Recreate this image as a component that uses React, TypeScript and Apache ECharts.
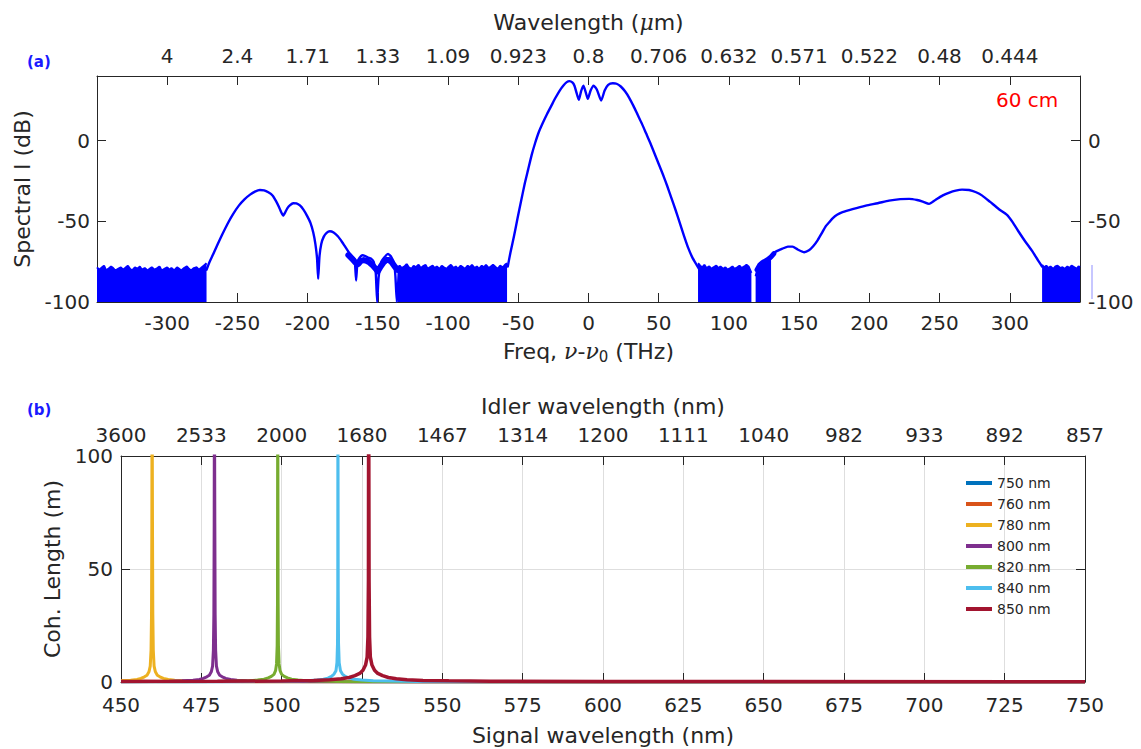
import React, { useEffect, useRef } from 'react';
import * as echarts from 'echarts';

// ---------- Panel (a): spectrum ----------
const wavelengthLabels = ['4', '2.4', '1.71', '1.33', '1.09', '0.923', '0.8', '0.706', '0.632', '0.571', '0.522', '0.48', '0.444'];

const leftSatellite: [number, number][] = [
  [-272, -80], [-270, -75.5], [-267.2, -70.2], [-264, -64], [-261, -58.5], [-257, -51.5], [-253, -45.4],
  [-249, -40.3], [-245, -36.4], [-241, -33.5], [-237.5, -31.6], [-234, -30.6], [-231, -30.8], [-228, -32],
  [-225, -34], [-222.5, -37.5], [-220.5, -41], [-219, -44], [-217.4, -46.5], [-216, -44.5], [-214.5, -42],
  [-212.5, -40], [-210.3, -38.8], [-208, -38.9], [-205.5, -40.2], [-203, -42.8], [-200.5, -46.5],
  [-198, -51], [-196, -57], [-194.5, -64], [-193.3, -73], [-192.5, -85.7], [-191.6, -72], [-190.3, -64],
  [-188.5, -59.5], [-186.5, -57.2], [-184.2, -56.2], [-181.5, -57], [-178.5, -59.3], [-175.5, -62.8],
  [-172.5, -66.8], [-170, -70], [-168, -72], [-166.5, -73.5], [-165.5, -86.7], [-164.5, -75],
  [-163, -72.5], [-161, -71], [-159, -71.5], [-157, -72.5], [-155, -73], [-153, -75], [-151.5, -82],
  [-150.5, -100], [-149.5, -85], [-147.5, -75], [-145, -72], [-142.7, -70.2], [-140.5, -72], [-138.5, -76],
  [-137.5, -84], [-136.5, -100], [-135.5, -88], [-134.5, -79]
];

const leftFuzz: [number, number][] = [
  [-171, -71], [-168, -73.5], [-166, -75.5], [-164, -76.5], [-162, -74.5], [-160, -74], [-158, -74.5],
  [-156, -75.5], [-154, -77], [-152, -79], [-150, -81], [-148, -78], [-146, -75.5], [-144, -74],
  [-142, -74], [-140, -75.5], [-138, -78], [-136, -80]
];

const centralPeak: [number, number][] = [
  [-57.5, -78], [-55.5, -69], [-53, -59], [-50.5, -48], [-48, -37.5], [-45.5, -27], [-43, -18],
  [-40.5, -9], [-38, -1.5], [-35.5, 5], [-32.5, 11], [-29.5, 16.5], [-26.5, 21.5], [-23.5, 26.5],
  [-20.5, 31], [-18, 34], [-15.5, 36.2], [-13.5, 36.8], [-11.5, 36], [-10, 34], [-8.5, 29.5],
  [-6.9, 25.2], [-5.3, 30.5], [-3.6, 34], [-2, 30], [-0.5, 25.8], [1.5, 31], [3.6, 34], [6, 31.5],
  [9, 24.8], [11.5, 31], [14, 34.5], [17.3, 35.5], [20, 35.2], [23, 33.5], [26, 30.5], [29, 26.5],
  [32, 21.5], [35, 16], [38, 10.5], [41, 4.5], [44, -1.5], [47, -8], [50, -14.5], [53, -21], [56, -28],
  [59, -35.5], [62, -43], [65, -51], [68, -59], [71, -66.5], [74, -72.5], [77, -77], [79, -80]
];

const rightSatellite: [number, number][] = [
  [129, -74], [131, -70.5], [134, -68.5], [138, -67], [142, -65.7], [145.3, -65.7], [149, -67.5],
  [153.6, -69.2], [157, -68], [160, -65.5], [163, -62], [166, -57.5], [169, -53], [171.4, -50.6],
  [174, -48], [177, -46], [180.9, -44.4], [188, -42.5], [197.5, -40.3], [206, -38.8], [214, -37.2],
  [222, -36.3], [228.3, -36.1], [234, -36.8], [238, -37.8], [242.5, -39.2], [247, -36.8], [252, -34.1],
  [257, -32.2], [261.5, -31], [266, -30.4], [271, -30.6], [276, -32], [280.4, -34.1], [286, -38],
  [292.3, -42.5], [298, -46], [302, -50.5], [306, -56], [311, -62.5], [316, -68.5], [320, -74], [323, -78]
];

const rightFuzz: [number, number][] = [
  [120, -80], [122, -77], [124, -75.5], [126, -74.5], [128, -73.5], [130, -72], [132, -70]
];

const noiseLeft: [number, number][] = [
  [-350, -78.5], [-348.5, -80], [-347, -79], [-345, -77.5], [-343.5, -80.5], [-342, -79.5], [-340, -78],
  [-338.5, -79], [-337, -80.5], [-335, -79.5], [-333, -78.5], [-331.5, -80], [-330, -79], [-328, -77.5],
  [-326.5, -79.5], [-325, -80.5], [-323, -78.5], [-321, -79.5], [-319.5, -78], [-318, -80], [-316, -79],
  [-314, -80.5], [-312.5, -79.5], [-311, -78.5], [-309, -80], [-307, -79], [-305.5, -78], [-304, -80.5],
  [-302, -79.5], [-300, -78.5], [-298.5, -80], [-297, -79], [-295, -80.5], [-293, -78.5], [-291.5, -79.5],
  [-290, -80.5], [-288, -79], [-286, -78], [-284.5, -79.5], [-283, -80.5], [-281, -79], [-279, -78.5],
  [-277.5, -80], [-276, -79], [-274, -77.5], [-272, -76]
];

const noiseMiddle: [number, number][] = [
  [-136, -79], [-134.5, -77.5], [-133, -79], [-131, -78], [-129.5, -76.5], [-128, -78.5], [-126, -79.5],
  [-124.5, -77.5], [-123, -78.5], [-121, -77], [-119.5, -79], [-118, -78], [-116, -77], [-114.5, -79.5],
  [-113, -78.5], [-111, -77.5], [-109.5, -79], [-108, -78], [-106, -79.5], [-104.5, -77.5], [-103, -78.5],
  [-101, -79.5], [-99.5, -78], [-98, -77], [-96, -79], [-94.5, -78], [-93, -79.5], [-91, -77.5],
  [-89.5, -78.5], [-88, -79.5], [-86, -77.5], [-84.5, -78.5], [-83, -77], [-81, -79], [-79.5, -78],
  [-78, -79.5], [-76, -77.5], [-74.5, -78.5], [-73, -77], [-71, -79], [-69.5, -78], [-68, -77],
  [-66, -78.5], [-64.5, -79.5], [-63, -77.5], [-61, -78.5], [-59.5, -77], [-58, -76]
];

const noiseRightA: [number, number][] = [
  [78, -76], [79.5, -77.5], [81, -78.5], [82.5, -77], [84, -79], [86, -78], [87.5, -79.5], [89, -78.5],
  [91, -77.5], [92.5, -79], [94, -78], [96, -79.5], [97.5, -78.5], [99, -80], [101, -79], [102.5, -78],
  [104, -79.5], [106, -78.5], [107.5, -77.5], [109, -79], [111, -78], [112.5, -77], [114, -78], [116, -82]
];

const noiseRightB: [number, number][] = [
  [119, -84], [120.5, -79], [122, -77], [123.5, -76], [125, -75.5], [127, -74.5], [129, -73.5], [130, -73]
];

const noiseFarRight: [number, number][] = [
  [323, -77], [324.5, -78.5], [326, -77.5], [327.5, -79], [329, -78], [331, -79.5], [332.5, -78],
  [334, -77.5], [336, -79], [337.5, -78.5], [339, -79.5], [341, -78], [342.5, -79], [344, -77.5],
  [346, -78.5], [347.5, -79.5], [349, -78], [350, -78.5]
];

// ---------- Panel (b): coherence length ----------
const idlerLabels = ['3600', '2533', '2000', '1680', '1467', '1314', '1200', '1111', '1040', '982', '933', '892', '857'];
const pumpNames = ['750 nm', '760 nm', '780 nm', '800 nm', '820 nm', '840 nm', '850 nm'];
const pumpColors = ['#0072BD', '#D95319', '#EDB120', '#7E2F8E', '#77AC30', '#4DBEEE', '#A2142F'];

const coh750: [number, number][] = [[450, 0.35], [470, 0.15], [500, 0.08], [600, 0.03], [750, 0.02]];
const coh760: [number, number][] = [[450, 0.4], [470, 0.2], [500, 0.1], [600, 0.04], [750, 0.02]];
const coh780: [number, number][] = [
  [450, 0.55], [453, 0.8], [455, 1.1], [456.2, 1.6], [457.3, 2.3], [458.1, 3], [458.7, 4.5], [459.1, 7],
  [459.35, 14], [459.5, 30], [459.6, 70], [459.67, 140], [459.73, 140], [459.8, 70], [459.9, 30],
  [460.05, 14], [460.3, 7], [460.7, 4.5], [461.3, 3], [462.1, 2.3], [463.2, 1.6], [464.7, 1.1],
  [466.7, 0.8], [469.7, 0.55], [474.7, 0.35], [484.7, 0.2], [499.7, 0.12], [530, 0.06], [750, 0.02]
];
const coh800: [number, number][] = [
  [450, 0.15], [460, 0.25], [465, 0.35], [469, 0.55], [472.4, 0.8], [474.4, 1.1], [475.6, 1.6],
  [476.7, 2.3], [477.5, 3], [478.1, 4.5], [478.5, 7], [478.75, 14], [478.9, 30], [479.0, 70],
  [479.07, 140], [479.13, 140], [479.2, 70], [479.3, 30], [479.45, 14], [479.7, 7], [480.1, 4.5],
  [480.7, 3], [481.5, 2.3], [482.6, 1.6], [484.1, 1.1], [486.1, 0.8], [489.1, 0.55], [494, 0.35],
  [504, 0.2], [520, 0.12], [560, 0.05], [750, 0.02]
];
const coh820: [number, number][] = [
  [450, 0.08], [470, 0.15], [480, 0.25], [486, 0.4], [490, 0.6], [492.5, 0.85], [494.5, 1.2],
  [495.8, 1.8], [496.8, 2.5], [497.6, 3.4], [498.1, 5], [498.4, 8], [498.6, 16], [498.7, 35],
  [498.77, 140], [498.83, 140], [498.9, 35], [499.0, 16], [499.2, 8], [499.5, 5], [500.0, 3.4],
  [500.8, 2.5], [501.8, 1.8], [503.1, 1.2], [505.1, 0.85], [507.6, 0.6], [511.6, 0.4], [517.6, 0.25],
  [527.6, 0.15], [550, 0.08], [750, 0.02]
];
const coh840: [number, number][] = [
  [450, 0.05], [480, 0.12], [495, 0.22], [503, 0.35], [508, 0.55], [511, 0.85], [513, 1.2],
  [514.4, 1.7], [515.5, 2.5], [516.3, 3.5], [516.9, 5], [517.2, 8.5], [517.38, 17], [517.46, 40],
  [517.5, 140], [517.54, 140], [517.6, 40], [517.7, 17], [517.9, 8.5], [518.3, 5], [518.9, 3.5],
  [519.8, 2.5], [521, 1.7], [522.6, 1.2], [525, 0.85], [528.5, 0.6], [534, 0.4], [542, 0.25],
  [555, 0.15], [580, 0.08], [750, 0.02]
];
const coh850: [number, number][] = [
  [450, 0.2], [480, 0.3], [500, 0.45], [510, 0.7], [515, 1.0], [518.5, 1.4], [521, 2.0], [522.8, 2.8],
  [524.3, 3.8], [525.3, 5.2], [526.1, 7.5], [526.6, 11], [526.85, 20], [527.0, 45], [527.07, 140],
  [527.13, 140], [527.2, 45], [527.35, 20], [527.6, 11], [528.1, 7.5], [528.9, 5.2], [529.9, 3.8],
  [531.4, 2.8], [533.2, 2.0], [535.7, 1.4], [539, 1.0], [544, 0.7], [552, 0.5], [565, 0.35],
  [600, 0.25], [650, 0.2], [750, 0.15]
];
const cohSeries = [coh750, coh760, coh780, coh800, coh820, coh840, coh850];

const FONT = 'DejaVu Sans';
const INK = '#262626';
const BLUE = '#0000ff';

export default function App() {
  const ref = useRef<HTMLDivElement>(null);

  useEffect(() => {
    if (!ref.current) return;
    const chart = echarts.init(ref.current, undefined, { renderer: 'svg' });

    const axisLineStyle = { show: true, onZero: false, lineStyle: { color: INK, width: 1 } };
    const tickStyle = { show: true, inside: true, length: 9, lineStyle: { color: INK, width: 1 } };
    const labelBase = { color: INK, fontSize: 20, fontFamily: FONT };
    const titleRich = {
      t: { fontSize: 22, fontFamily: FONT, color: INK, lineHeight: 26 },
      i: { fontSize: 22, fontFamily: 'DejaVu Serif', fontStyle: 'italic', color: INK, lineHeight: 26 },
      s: { fontSize: 15, fontFamily: FONT, color: INK, lineHeight: 14, verticalAlign: 'bottom' },
    };

    const specLine = (data: [number, number][], width = 2.4, smooth: number | boolean = 0.2) => ({
      type: 'line', xAxisIndex: 0, yAxisIndex: 0, data, showSymbol: false, symbol: 'none', smooth,
      lineStyle: { color: BLUE, width, join: 'round', cap: 'round' }, itemStyle: { color: BLUE }, z: 3,
    });
    const noiseBand = (data: [number, number][]) => ({
      type: 'line', xAxisIndex: 0, yAxisIndex: 0, data, showSymbol: false, symbol: 'none',
      lineStyle: { color: BLUE, width: 2 }, itemStyle: { color: BLUE },
      areaStyle: { color: BLUE, opacity: 1, origin: 'start' }, z: 2,
    });

    const option: any = {
      animation: false,
      backgroundColor: '#ffffff',
      textStyle: { fontFamily: FONT },
      grid: [
        { left: 97, top: 76, width: 983, height: 226, containLabel: false },
        { left: 121, top: 456, width: 964, height: 226, containLabel: false },
      ],
      xAxis: [
        {
          gridIndex: 0, type: 'value', position: 'bottom', min: -350, max: 350, interval: 50,
          axisLine: axisLineStyle, axisTick: tickStyle, splitLine: { show: false },
          axisLabel: { ...labelBase, margin: 11, showMinLabel: false, showMaxLabel: false },
          name: '{t|Freq, }{i|ν}{t|-}{i|ν}{s|0}{t| (THz)}', nameLocation: 'middle', nameGap: 36,
          nameTextStyle: { rich: titleRich },
        },
        {
          gridIndex: 0, type: 'value', position: 'top', min: -350, max: 350, interval: 50,
          axisLine: axisLineStyle, axisTick: tickStyle, splitLine: { show: false },
          axisLabel: {
            ...labelBase, margin: 10, showMinLabel: false, showMaxLabel: false,
            formatter: (v: number) => {
              const i = Math.round((v + 300) / 50);
              return i >= 0 && i < wavelengthLabels.length ? wavelengthLabels[i] : '';
            },
          },
          name: '{t|Wavelength (}{i|μ}{t|m)}', nameLocation: 'middle', nameGap: 41,
          nameTextStyle: { rich: titleRich },
        },
        {
          gridIndex: 1, type: 'value', position: 'bottom', min: 450, max: 750, interval: 25,
          axisLine: axisLineStyle, axisTick: tickStyle,
          splitLine: { show: true, lineStyle: { color: '#dedede', width: 1 } },
          axisLabel: { ...labelBase, margin: 13 },
          name: 'Signal wavelength (nm)', nameLocation: 'middle', nameGap: 42,
          nameTextStyle: { fontSize: 22, fontFamily: FONT, color: INK },
        },
        {
          gridIndex: 1, type: 'value', position: 'top', min: 450, max: 750, interval: 25,
          axisLine: axisLineStyle, axisTick: tickStyle, splitLine: { show: false },
          axisLabel: {
            ...labelBase, margin: 11,
            formatter: (v: number) => {
              const i = Math.round((v - 450) / 25);
              return i >= 0 && i < idlerLabels.length ? idlerLabels[i] : '';
            },
          },
          name: 'Idler wavelength (nm)', nameLocation: 'middle', nameGap: 39,
          nameTextStyle: { fontSize: 22, fontFamily: FONT, color: INK },
        },
      ],
      yAxis: [
        {
          gridIndex: 0, type: 'value', position: 'left', min: -100, max: 40, interval: 50,
          axisLine: axisLineStyle, axisTick: tickStyle, splitLine: { show: false },
          axisLabel: { ...labelBase, margin: 7, showMaxLabel: false },
          name: 'Spectral I (dB)', nameLocation: 'middle', nameGap: 59,
          nameTextStyle: { fontSize: 22, fontFamily: FONT, color: INK },
        },
        {
          gridIndex: 0, type: 'value', position: 'right', min: -100, max: 40, interval: 50,
          axisLine: axisLineStyle, axisTick: tickStyle, splitLine: { show: false },
          axisLabel: { ...labelBase, margin: 8, showMaxLabel: false },
        },
        {
          gridIndex: 1, type: 'value', position: 'left', min: 0, max: 100, interval: 50,
          axisLine: axisLineStyle, axisTick: tickStyle,
          splitLine: { show: true, lineStyle: { color: '#dedede', width: 1 } },
          axisLabel: { ...labelBase, margin: 8 },
          name: 'Coh. Length (m)', nameLocation: 'middle', nameGap: 53,
          nameTextStyle: { fontSize: 22, fontFamily: FONT, color: INK },
        },
        {
          gridIndex: 1, type: 'value', position: 'right', min: 0, max: 100, interval: 50,
          axisLine: axisLineStyle, axisTick: tickStyle, splitLine: { show: false },
          axisLabel: { show: false },
        },
      ],
      legend: {
        data: pumpNames,
        orient: 'vertical', left: 966, top: 476,
        itemWidth: 26, itemHeight: 4, itemGap: 7, icon: 'rect',
        textStyle: { fontSize: 14, fontFamily: FONT, color: INK, lineHeight: 14 },
        padding: 0,
      },
      graphic: [
        { type: 'text', left: 27, top: 54, style: { text: '(a)', fill: '#1a1aff', fontSize: 15, fontWeight: 'bold', fontFamily: FONT } },
        { type: 'text', left: 27, top: 402, style: { text: '(b)', fill: '#1a1aff', fontSize: 15, fontWeight: 'bold', fontFamily: FONT } },
        { type: 'text', left: 996, top: 90, style: { text: '60 cm', fill: '#ff0000', fontSize: 20, fontFamily: FONT } },
        { type: 'line', shape: { x1: 1092, y1: 265, x2: 1092, y2: 299 }, style: { stroke: '#8f8fff', lineWidth: 1 } },
      ],
      series: [
        noiseBand(noiseLeft),
        noiseBand(noiseMiddle),
        noiseBand(noiseRightA),
        noiseBand(noiseRightB),
        noiseBand(noiseFarRight),
        specLine(leftFuzz, 6, false),
        specLine(rightFuzz, 5, false),
        specLine(leftSatellite, 2.4, 0.15),
        specLine(centralPeak, 2.4, 0.2),
        specLine(rightSatellite, 2.4, 0.2),
        ...cohSeries.map((d, k) => ({
          name: pumpNames[k], type: 'line', xAxisIndex: 2, yAxisIndex: 2, data: d,
          showSymbol: false, symbol: 'none', clip: true,
          lineStyle: { color: pumpColors[k], width: k === 6 ? 3.5 : 3 },
          itemStyle: { color: pumpColors[k] }, z: 3 + k,
        })),
      ],
    };

    chart.setOption(option);
    return () => chart.dispose();
  }, []);

  return (
    <div
      ref={ref}
      style={{ position: 'fixed', left: 0, top: 0, width: 1141, height: 749, background: '#fff' }}
    />
  );
}
